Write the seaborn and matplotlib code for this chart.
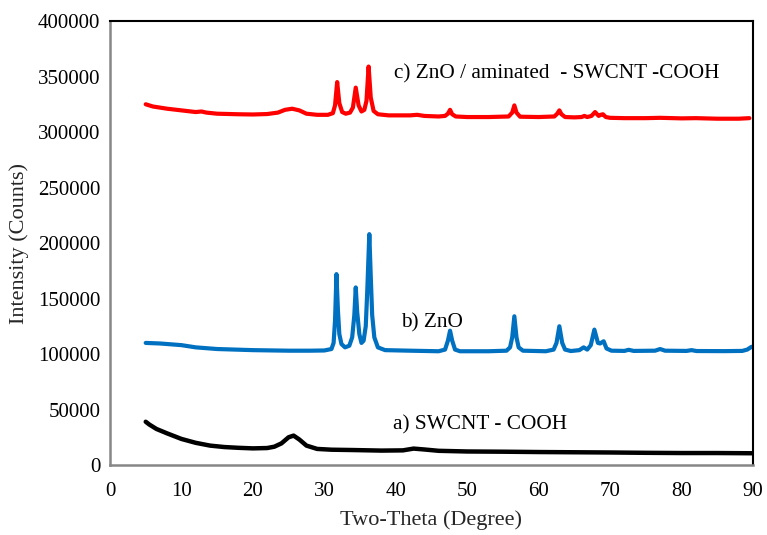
import matplotlib
matplotlib.use("Agg")
import matplotlib.pyplot as plt
import seaborn as sns
import pandas as pd

# ---- data ----
x_c = [5, 6, 8, 10, 12, 12.8, 13.5, 15, 18, 20, 22, 23.5, 24.5, 25.5, 26.5, 27.5, 29, 30.5,
       31.2, 31.5, 31.8, 32.1, 32.5, 33, 33.6, 34.0, 34.4, 34.8, 35.2, 35.6, 35.9, 36.2, 36.5,
       36.9, 37.5, 39, 42, 43, 44, 46, 46.9, 47.3, 47.6, 47.9, 48.4, 50, 53, 55.8, 56.3, 56.6,
       56.9, 57.4, 60, 62.2, 62.6, 62.9, 63.2, 63.7, 65, 66, 66.4, 66.8, 67.4, 67.9, 68.4, 68.7,
       69.0, 69.4, 70, 72, 75, 77, 80, 82, 85, 88, 89.5]
y_c = [325000, 323000, 321000, 319500, 318000, 318500, 317500, 316500, 316000, 315800, 316200,
       317500, 320000, 321000, 319500, 316500, 315500, 315500,
       317000, 324000, 345000, 326000, 318000, 316500, 317500, 322000, 340000, 324000, 318500,
       320000, 328000, 359000, 331000,
       319000, 316000, 315000, 315000, 315500, 314500, 314000, 314500, 316500, 320000, 316000,
       314000, 313500, 313500, 314000, 317500, 324000,
       317500, 313800, 313500, 314000, 316500, 319500, 316000, 313500, 313200, 313500, 314500,
       313500, 314500, 318000, 314500, 315500,
       316000, 313500, 312800, 312500, 312500, 312800, 312300, 312500, 312000, 312000, 312500]

x_b = [5, 7, 10, 12, 15, 20, 25, 28, 30, 31, 31.3, 31.5, 31.7, 31.9, 32.1, 32.4, 32.9, 33.5,
       33.9, 34.2, 34.4, 34.6, 34.9, 35.2, 35.5, 35.8, 36.0, 36.3, 36.5, 36.7, 37.0, 37.5, 38.5,
       42, 46, 46.9, 47.3, 47.6, 47.9, 48.3, 49, 53, 55.5, 56.0, 56.3, 56.6, 56.9, 57.2, 57.8,
       61, 62.1, 62.5, 62.9, 63.3, 63.7, 64.5, 65.7, 66.3, 66.8, 67.3, 67.8, 68.3, 68.6, 69.1,
       69.5, 70.2, 72, 72.6, 73.3, 76.3, 77, 77.7, 80.7, 81.4, 82.1, 86, 88.5, 89.2, 89.8]
y_b = [110000, 109500, 108000, 106000, 104500, 103500, 103000, 103000, 103200, 104500, 110000,
       130000, 172000, 140000, 118000, 109000, 106000, 107500,
       115000, 135000, 160000, 138000, 118000, 110000, 112000, 125000, 155000, 208000, 170000,
       135000, 115000, 106000, 103500,
       103000, 102500, 104000, 112000, 121000, 112000, 104000, 102500, 102500, 103000, 106000,
       115000, 134000, 115000, 106000, 103000,
       102500, 104000, 110000, 125000, 110000, 104000, 102700, 103500, 106000, 104000, 108000,
       122000, 110000, 109500, 111500,
       105000, 103000, 102800, 103800, 102800, 103000, 104500, 103000, 102800, 103500, 102700,
       102600, 102800, 104000, 106500]

x_a = [5, 5.5, 6.5, 8, 10, 12, 14, 16, 18, 20, 22, 23, 24, 25, 25.7, 26.5, 27.5, 29, 31, 34,
       38, 41, 42.5, 44, 46, 50, 55, 60, 65, 70, 75, 80, 85, 89.8]
y_a = [39000, 36500, 32500, 28500, 23500, 20000, 17500, 16200, 15500, 15000, 15300, 16500,
       19500, 25000, 26500, 23000, 17500, 14500, 13800, 13500, 13000, 13200, 14800, 14000,
       12800, 12200, 12000, 11700, 11500, 11300, 11000, 10800, 10800, 10600]

labels = ["c) ZnO / aminated  - SWCNT -COOH", "b) ZnO", "a) SWCNT - COOH"]
label_x = [39.8, 40.7, 39.6]
label_y = [352800, 127800, 36000]

x_ticks = [0, 10, 20, 30, 40, 50, 60, 70, 80, 90]
y_ticks = [0, 50000, 100000, 150000, 200000, 250000, 300000, 350000, 400000]

# ---- plot ----
sns.set_style("white")
plt.rcParams["font.family"] = ["Liberation Serif", "DejaVu Serif"]

fig = plt.figure(figsize=(7.67, 5.35), dpi=100)
ax = fig.add_axes([0.1434, 0.1308, 0.8383, 0.8299])

df_c = pd.DataFrame({"x": x_c, "y": y_c})
df_b = pd.DataFrame({"x": x_b, "y": y_b})
df_a = pd.DataFrame({"x": x_a, "y": y_a})
sns.lineplot(data=df_a, x="x", y="y", color="#000000", lw=3.2, ax=ax, sort=False)
sns.lineplot(data=df_b, x="x", y="y", color="#0070c0", lw=3.0, ax=ax, sort=False)
sns.lineplot(data=df_c, x="x", y="y", color="#ff0000", lw=3.0, ax=ax, sort=False)

for t, tx, ty in zip(labels, label_x, label_y):
    ax.text(tx, ty, t, fontsize=15.3, ha="left", va="center", color="black")

ax.set_xlim(0, 90)
ax.set_ylim(0, 400000)
ax.set_xticks(x_ticks)
ax.set_yticks(y_ticks)
ax.set_xticklabels([str(v) for v in x_ticks])
ax.set_yticklabels([str(v) for v in y_ticks])
ax.tick_params(axis="both", length=0, labelsize=15, colors="black")
ax.tick_params(axis="x", pad=12)
ax.tick_params(axis="y", pad=7)
ax.set_xlabel("Two-Theta (Degree)", fontsize=16, labelpad=7)
ax.set_ylabel("Intensity (Counts)", fontsize=16, labelpad=6)

for s in ["left", "bottom"]:
    ax.spines[s].set_color("#868686")
    ax.spines[s].set_linewidth(1.8)
for s in ["top", "right"]:
    ax.spines[s].set_color("black")
    ax.spines[s].set_linewidth(1.5)

fig.savefig("out.png", dpi=100)
